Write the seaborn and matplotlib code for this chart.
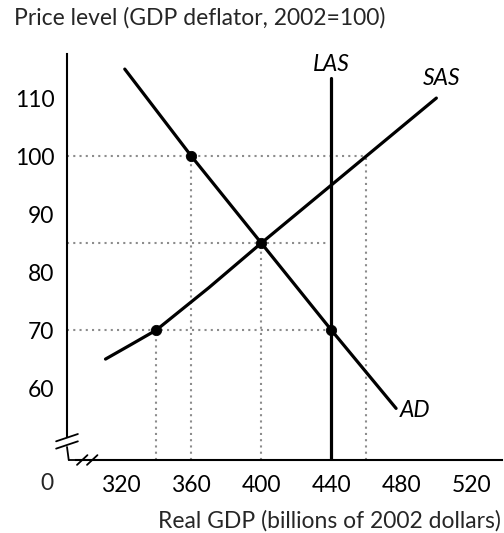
import numpy as np
import pandas as pd
import matplotlib
matplotlib.use("Agg")
import matplotlib.pyplot as plt
import seaborn as sns

# curves
ad_x = [322, 360, 400, 440, 477]
ad_y = [115, 100, 85, 70, 56.5]
sas_x = [311, 325, 340, 370, 400, 440, 460, 500]
sas_y = [65, 67.4, 70, 77.3, 85, 95, 100, 110]
las_x = [440, 440]
las_y = [47.6, 113.5]

pts_x = [360, 400, 340, 440]
pts_y = [100, 85, 70, 70]

x_ticks = [320, 360, 400, 440, 480, 520]
y_ticks = [60, 70, 80, 90, 100, 110]

sns.set_style("white")
plt.rcParams["font.family"] = ["Lato", "DejaVu Sans"]
FS = 16.5

fig = plt.figure(figsize=(5.04, 5.33), dpi=100)
ax = fig.add_axes([67 / 504, 1 - 460 / 533, 435 / 504, 406 / 533])
xmin, xmax, ymin, ymax = 289, 537.5, 47.6, 117.6
ax.set_xlim(xmin, xmax)
ax.set_ylim(ymin, ymax)

dot = dict(color="0.55", lw=1.5, ls=(0, (1, 2.0)), zorder=1)
# dotted guides
ax.plot([xmin, 460], [100, 100], **dot)
ax.plot([460, 460], [ymin, 100], **dot)
ax.plot([360, 360], [ymin, 100], **dot)
ax.plot([xmin, 438], [85, 85], **dot)
ax.plot([400, 400], [ymin, 85], **dot)
ax.plot([xmin, 440], [70, 70], **dot)
ax.plot([340, 340], [ymin, 70], **dot)

curves = pd.DataFrame({
    "x": ad_x + sas_x + las_x,
    "y": ad_y + sas_y + las_y,
    "curve": ["AD"] * len(ad_x) + ["SAS"] * len(sas_x) + ["LAS"] * len(las_x),
})
sns.lineplot(data=curves, x="x", y="y", units="curve", estimator=None,
             sort=False, color="black", lw=2.3, ax=ax, zorder=3)
sns.scatterplot(x=pts_x, y=pts_y, color="black", s=55, edgecolor="black",
                ax=ax, zorder=4)

lab = dict(fontsize=FS, style="italic", color="black")
ax.text(440, 115.8, "LAS", ha="center", va="center", **lab)
ax.text(503, 113.3, "SAS", ha="center", va="center", **lab)
ax.text(479, 56.2, "AD", ha="left", va="center", **lab)

# axes and ticks
sns.despine(ax=ax)
ax.spines["left"].set_bounds(51.5, ymax)
ax.spines["bottom"].set_bounds(294, xmax)
for s in ["left", "bottom"]:
    ax.spines[s].set_linewidth(1.5)
    ax.spines[s].set_color("black")
ax.set_xticks(x_ticks)
ax.set_yticks(y_ticks)
ax.tick_params(direction="in", length=5, width=1.3, labelsize=FS, colors="black")
ax.tick_params(axis="y", pad=9)
ax.tick_params(axis="x", pad=11)
ax.set_xlabel("")
ax.set_ylabel("")

# axis break marks
tr = ax.transAxes
kw = dict(color="black", lw=1.3, transform=tr, clip_on=False)
for dy in (0.058, 0.04):
    ax.plot([-0.025, 0.025], [dy - 0.012, dy + 0.006], **kw)
for dx in (0.035, 0.058):
    ax.plot([dx - 0.012, dx + 0.012], [-0.012, 0.012], **kw)
ax.plot([0, 0.004], [0.032, 0], **kw)
ax.plot([0.004, 0.03], [0, 0], **kw)

ax.text(-0.045, -0.057, "0", transform=tr, ha="center", va="center", fontsize=FS)
fig.text(14 / 504, 1 - 18 / 533, "Price level (GDP deflator, 2002=100)",
         ha="left", va="center", fontsize=FS)
fig.text(501 / 504, 1 - 521 / 533, "Real GDP (billions of 2002 dollars)",
         ha="right", va="center", fontsize=FS)

fig.savefig("out.png", dpi=100)
